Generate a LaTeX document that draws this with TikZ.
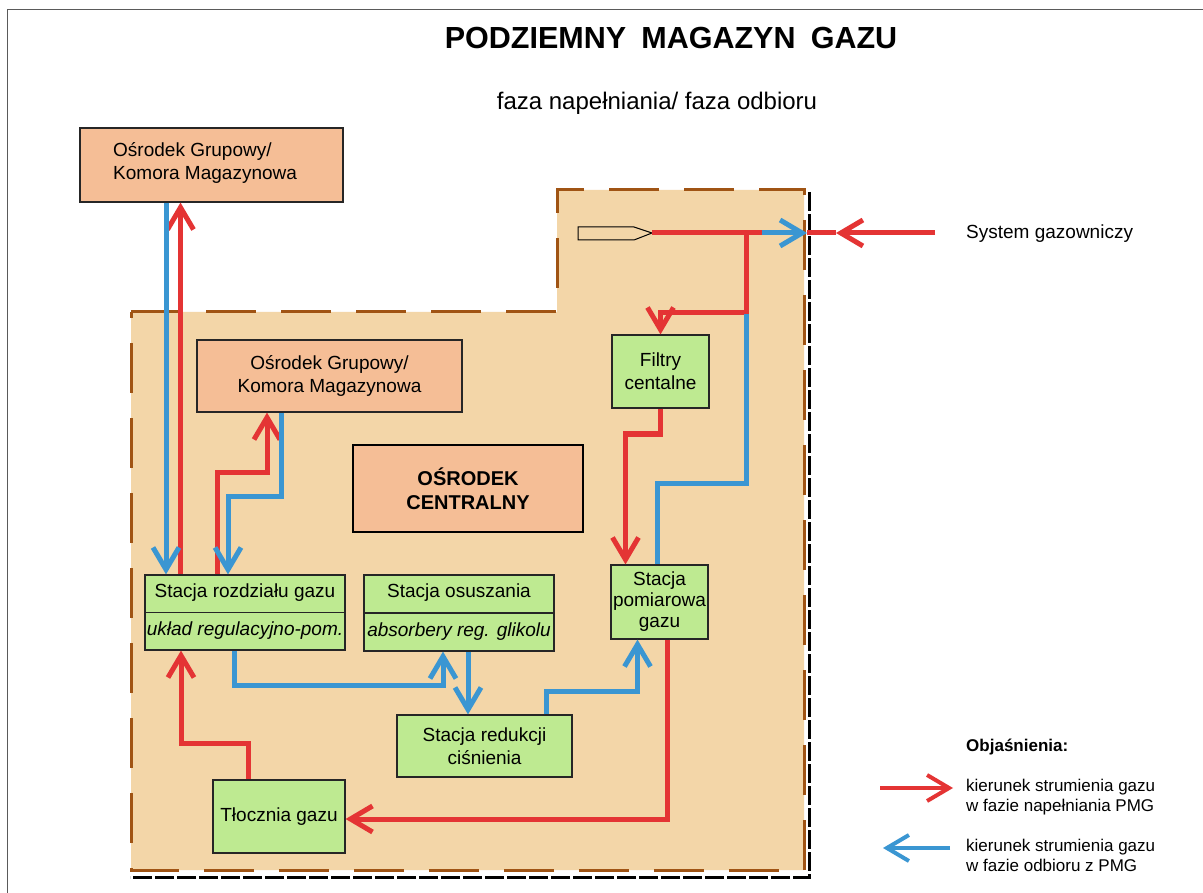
\documentclass[tikz,border=0pt]{standalone}
\usepackage{fontspec}
\setmainfont{Liberation Sans}
\usetikzlibrary{arrows.meta}
\definecolor{salmon}{RGB}{245,190,150}
\definecolor{beige}{RGB}{243,214,168}
\definecolor{lgreen}{RGB}{190,234,145}
\definecolor{brownd}{RGB}{160,84,20}
\definecolor{redf}{RGB}{228,52,52}
\definecolor{bluef}{RGB}{58,150,210}
\definecolor{framec}{RGB}{90,90,90}
\begin{document}
\begin{tikzpicture}[x=1pt,y=-1pt,
  box/.style={draw=black!85, line width=1.2pt, inner sep=0pt, align=center,
    font=\fontsize{19}{23}\selectfont},
  ogbox/.style={box, fill=salmon},
  grbox/.style={box, fill=lgreen},
  fl/.style={line width=5pt},
  rl/.style={fl, draw=redf},
  bl/.style={fl, draw=bluef},
  tip/.style={-{Straight Barb[length=22pt,width=26pt]}},
  txt/.style={inner sep=0pt, font=\fontsize{19}{23}\selectfont},
  legtxt/.style={inner sep=0pt, align=left, anchor=west, font=\fontsize{17}{20}\selectfont}
]
\useasboundingbox[fill=white] (0,0) rectangle (1203,893);
% frame
\draw[framec, line width=1pt] (1203,10) -- (7,10) -- (7,893);
% titles
\node[inner sep=0pt, anchor=base, font=\bfseries\fontsize{30.5}{34}\selectfont] (title) at (671,49) {PODZIEMNY\hspace{0.5em}MAGAZYN\hspace{0.5em}GAZU};
\node[inner sep=0pt, anchor=base, font=\fontsize{24}{28}\selectfont] (subtitle) at (657,110) {faza napełniania/ faza odbioru};
% area
\fill[beige] (131,312) -- (557,312) -- (557,190) -- (804,190) -- (804,870) -- (131,870) -- cycle;
\draw[brownd, line width=3pt, dash pattern=on 50pt off 25pt] (131,312) -- (557,312) -- (557,190) -- (804,190) -- (804,870) -- (131,870) -- cycle;
\draw[black, line width=3pt, dash pattern=on 19pt off 3pt] (809,192) -- (809,877) -- (130,877);
% boxes
\node[ogbox, minimum width=263pt, minimum height=74pt, align=left] (og1) at (211.5,165) {};
\node[txt, anchor=west, align=left] (og1t) at (113,163) {Ośrodek Grupowy/\\Komora Magazynowa};
\node[ogbox, minimum width=265pt, minimum height=72pt] (og2) at (329.5,376) {Ośrodek Grupowy/\\Komora Magazynowa};
\node[ogbox, draw=black, line width=2.5pt, minimum width=230pt, minimum height=87pt, font=\bfseries\fontsize{20}{24}\selectfont] (oc) at (468,488.5) {OŚRODEK\\CENTRALNY};
\node[grbox, minimum width=97pt, minimum height=73pt] (filt) at (660.5,371.5) {Filtry\\centalne};
\node[grbox, minimum width=200pt, minimum height=75pt] (rozdz) at (245,612.5) {};
\draw[black!85, line width=1.2pt] (rozdz.west) -- (rozdz.east);
\node[txt] (rozdzA) at (245,593) {Stacja rozdziału gazu};
\node[txt, font=\itshape\fontsize{19}{23}\selectfont] (rozdzB) at (245,631) {układ regulacyjno-pom.};
\node[grbox, minimum width=190pt, minimum height=76pt] (osusz) at (459,613) {};
\draw[black!85, line width=1.2pt] (osusz.west) -- (osusz.east);
\node[txt] (osuszA) at (459,593) {Stacja osuszania};
\node[txt, font=\itshape\fontsize{19}{23}\selectfont] (osuszB) at (459,632) {absorbery reg. glikolu};
\node[grbox, minimum width=97pt, minimum height=74pt, font=\fontsize{19}{21}\selectfont] (pom) at (659.5,602) {Stacja\\pomiarowa\\gazu};
\node[grbox, minimum width=175pt, minimum height=62pt] (redk) at (484.5,746) {Stacja redukcji\\ciśnienia};
\node[grbox, minimum width=132pt, minimum height=73pt] (tlo) at (279,816.5) {Tłocznia gazu};
% nozzle and junctions
\draw[line width=1pt, fill=beige] (578,227) -- (634,227) -- (652,233) -- (634,240) -- (578,240) -- cycle;
\coordinate (noz) at (652,233);
\coordinate (jr) at (746,233);
\coordinate (jb) at (762,233);
\coordinate (wall) at (807,233);
\coordinate (sysE) at (935,233);
\coordinate (sysM) at (836,233);
\coordinate (jd) at (746,313);
\node[txt, anchor=west] (sys) at (966,234) {System gazowniczy};
% connectors - red
\draw[rl] (sysM) -- (wall);
\draw[rl, tip] (sysE) -- (sysM);
\draw[rl] (noz) -- (jb);
\draw[bl, tip] (jb) -- (wall);
\draw[rl, tip] (jr) -- (jd) -| (filt.north);
\draw[rl, tip] (filt.south) -- (660.5,434) -| ([xshift=-34pt]pom.north);
\draw[rl, tip] ([xshift=7.5pt]pom.south) |- ([yshift=-2.5pt]tlo.east);
\draw[rl, tip] ([xshift=-31pt]tlo.north) -- (248,743) -| ([xshift=-64pt]rozdz.south);
\draw[rl, tip] ([xshift=-28pt]rozdz.north) -- (217,472) -| ([xshift=-62.5pt]og2.south);
\draw[rl, tip] ([xshift=-64.5pt]rozdz.north) -- ([xshift=-31pt]og1.south);
% connectors - blue
\draw[bl, tip] ([xshift=-45.5pt]og1.south) -- ([xshift=-79pt]rozdz.north);
\draw[bl, tip] ([xshift=-48pt]og2.south) -- (281.5,496) -| ([xshift=-17pt]rozdz.north);
\draw[bl, tip] ([xshift=-10.5pt]rozdz.south) -- (234.5,685) -| ([xshift=-16pt]osusz.south);
\draw[bl, tip] ([xshift=9pt]osusz.south) -- ([xshift=-16.5pt]redk.north);
\draw[bl, tip] ([xshift=61.5pt]redk.north) -- (546,691) -| ([xshift=-22pt]pom.south);
\draw[bl] ([xshift=-2.5pt]pom.north) -- (657,483) -| ([yshift=-1pt]jd);
% legend
\node[inner sep=0pt, anchor=west, font=\bfseries\fontsize{17}{20}\selectfont] (objt) at (966,747) {Objaśnienia:};
\coordinate (lr1) at (880,788);
\coordinate (lr2) at (953,788);
\coordinate (lb1) at (950,848);
\coordinate (lb2) at (883,848);
\draw[rl, line width=4pt, tip] (lr1) -- (lr2);
\draw[bl, line width=4pt, tip] (lb1) -- (lb2);
\node[legtxt] (l1) at (966,797) {kierunek strumienia gazu\\w fazie napełniania PMG};
\node[legtxt] (l2) at (966,855) {kierunek strumienia gazu\\w fazie odbioru z PMG};
\end{tikzpicture}
\end{document}
